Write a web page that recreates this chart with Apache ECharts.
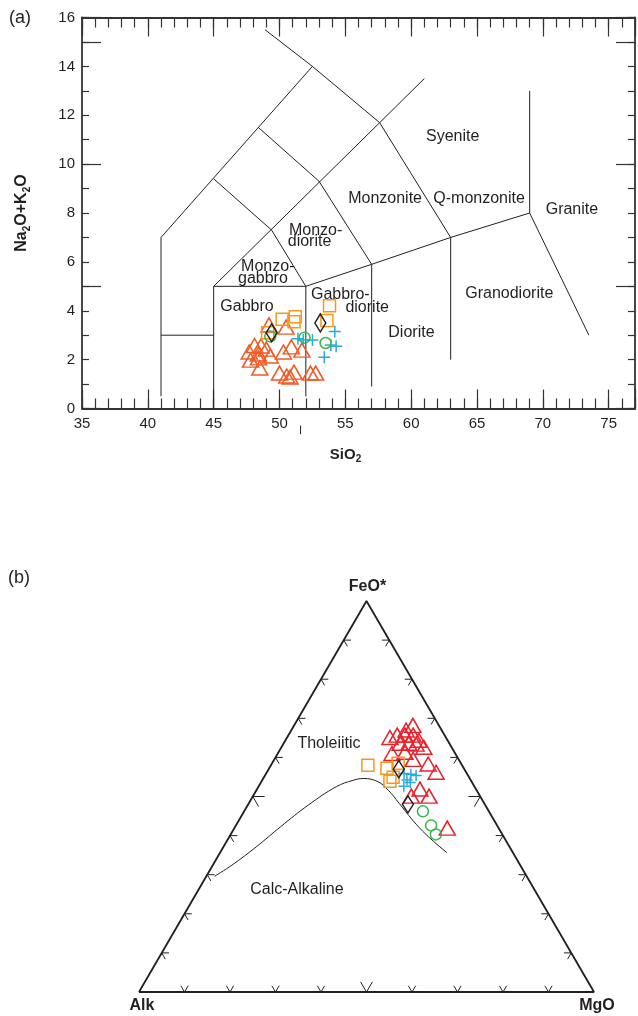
<!DOCTYPE html>
<html><head><meta charset="utf-8">
<script src="https://cdn.jsdelivr.net/npm/echarts@6/dist/echarts.min.js"></script>
<style>html,body{margin:0;padding:0;background:#fff}#c{width:638px;height:1016px}</style>
</head><body><div id="c"></div>
<script>
// ===== (a) TAS diagram data (SiO2 wt%, Na2O+K2O wt%) =====
const triSiO2 = [49.2,50.5,48.1,48.6,47.7,48.4,49.0,49.3,47.8,48.4,48.5,50.3,50.9,51.7,50.0,50.55,51.1,52.35,52.75,50.8];
const triAlk  = [3.42,3.33,2.58,2.56,2.31,2.23,2.43,2.15,1.98,2.07,1.66,2.31,2.52,2.39,1.45,1.33,1.49,1.45,1.45,1.29];
const sqSiO2 = [50.2,51.2,51.1,53.8,53.6,49.1];
const sqAlk  = [3.65,3.75,3.55,4.2,3.6,3.1];
const dmSiO2 = [49.4,53.1];
const dmAlk  = [3.1,3.5];
const ciSiO2 = [49.3,51.9,53.5];
const ciAlk  = [2.95,2.9,2.68];
const crSiO2 = [51.4,51.8,52.5,54.2,53.9,54.3,53.4];
const crAlk  = [2.85,2.8,2.8,3.15,2.6,2.55,2.1];

// TAS field boundaries (polylines, [SiO2, alkali])
const tasLines = [
  [[41,0.5],[41,7],[52.5,14]],
  [[48.9,15.5],[52.5,14],[57.6,11.7],[63,7]],
  [[45,5],[61,13.5]],
  [[48.4,11.5],[53,9.3],[57,5.9],[57,0.9]],
  [[45,9.4],[49.4,7.3],[52,5],[52,0.5]],
  [[45,0],[45,5],[52,5],[57,5.9],[63,7],[69,8],[73.5,3]],
  [[63,7],[63,2]],
  [[69,13],[69,8]],
  [[41,3],[45,3]]
];
const tasStub = [[51.6,-0.7],[51.6,-1.05]];
const tasFieldNames = ['Syenite','Monzonite','Q-monzonite','Granite','Monzo-','diorite','Monzo-','gabbro','Gabbro','Gabbro-','diorite','Diorite','Granodiorite'];
const tasFieldSiO2  = [63.15,58.02,65.16,72.21,52.74,52.28,49.11,48.74,47.53,54.62,56.66,60.02,67.45];
const tasFieldAlk   = [11.11,8.57,8.57,8.12,7.30,6.81,5.79,5.30,4.19,4.68,4.11,3.09,4.72];

// ===== (b) AFM ternary data (FeO* %, MgO %; Alk = 100 - F - M) =====
const afmTriF = [68.2,65.1,65.7,65.7,65.7,64.4,63.6,63.6,63.4,62.6,61.0,61.3,59.5,58.3,56.2,51.9,50.1,50.1,41.9,67.0];
const afmTriM = [26.1,22.6,23.9,25.6,27.4,29.3,25.6,27.5,29.2,31.3,25.1,27.8,30.5,34.4,37.2,35.8,34.8,38.7,46.8,25.2];
const afmSqF = [58.0,57.2,58.5,54.9,53.9];
const afmSqM = [21.3,25.9,27.7,28.4,28.2];
const afmDmF = [57.0,48.0];
const afmDmM = [28.6,35.1];
const afmCiF = [46.2,42.6,40.3];
const afmCiM = [39.3,42.9,45.1];
const afmCrF = [55.9,55.7,55.4,54.2,52.6,53.6];
const afmCrM = [30.3,31.9,33.2,31.8,31.9,32.8];
// Irvine & Baragar tholeiitic / calc-alkaline boundary
const bndF = [29.6,32.45,37.1,42.3,47.8,52.5,54.15,54.6,53.8,51.6,48.3,44.0,40.1,35.6];
const bndM = [1.8,4.2,7.2,10.0,13.3,17.1,20.0,22.1,25.6,29.0,33.0,38.1,43.2,49.9];
const ternTicks = [10,20,30,40,50,60,70,80,90];

// ===== helpers =====
const H = Math.sqrt(3)/2;
const tern = (f,m) => [m/100 + f/200, f/100*H];
const ternPts = (F,M) => F.map((f,i)=>tern(f,M[i]));
const zip = (X,Y) => X.map((x,i)=>[x,Y[i]]);
const ink = '#231f20';
const font = '"Liberation Sans", Arial, Helvetica, sans-serif';
const C = {tri:'#f05a24', triB:'#e8212b', sq:'#f7981d', dm:'#231f20', ci:'#3bb54a', cr:'#27aae1'};

function xAx(pos, interval, len, showLine, showLabel){
  return {type:'value', gridIndex:0, position:pos, min:35, max:77, interval,
    axisLine:{show:showLine, onZero:false, lineStyle:{color:'#333',width:1.8}},
    axisTick:{show:true, inside:true, length:len, lineStyle:{color:'#333',width:1.2}},
    axisLabel: showLabel ? {show:true, margin:8, color:ink, fontSize:15, fontFamily:font,
      formatter:v=> (v%5===0 && v<=75) ? String(v) : ''} : {show:false},
    splitLine:{show:false}};
}
function yAx(pos, interval, len, showLine, showLabel){
  return {type:'value', gridIndex:0, position:pos, min:0, max:16, interval,
    axisLine:{show:showLine, onZero:false, lineStyle:{color:'#333',width:1.8}},
    axisTick:{show:true, inside:true, length:len, lineStyle:{color:'#333',width:1.2}},
    axisLabel: showLabel ? {show:true, margin:7, color:ink, fontSize:15, fontFamily:font,
      formatter:v=> (v%2===0) ? String(v) : ''} : {show:false},
    splitLine:{show:false}};
}
const xAxes = [xAx('bottom',1,10,true,true), xAx('bottom',5,19,false,false), xAx('top',1,10,true,false), xAx('top',5,19,false,false)];
xAxes[0].name = '{b|SiO}{s|2}';
xAxes[0].nameLocation = 'middle';
xAxes[0].nameGap = 36;
xAxes[0].nameTextStyle = {padding:[0,26,0,0], rich:{b:{fontSize:15,fontWeight:'bold',fontFamily:font,color:ink,lineHeight:20},s:{fontSize:10,fontWeight:'bold',fontFamily:font,color:ink,lineHeight:10,verticalAlign:'bottom'}}};
const yAxes = [yAx('left',1,7,true,true), yAx('left',5,19,false,false), yAx('right',1,7,true,false), yAx('right',5,19,false,false)];
yAxes[0].name = '{b|Na}{s|2}{b|O+K}{s|2}{b|O}';
yAxes[0].nameLocation = 'middle';
yAxes[0].nameGap = 50;
yAxes[0].nameTextStyle = {rich:{b:{fontSize:16,fontWeight:'bold',fontFamily:font,color:ink,lineHeight:20},s:{fontSize:10,fontWeight:'bold',fontFamily:font,color:ink,lineHeight:10,verticalAlign:'bottom'}}};
xAxes.push({type:'value', gridIndex:1, min:0, max:1, show:false});
yAxes.push({type:'value', gridIndex:1, min:0, max:H, show:false});

const series = [];
tasLines.forEach(l => series.push({type:'line', xAxisIndex:0, yAxisIndex:0, data:l, symbol:'none', silent:true, lineStyle:{color:ink,width:1}}));
series.push({type:'line', xAxisIndex:0, yAxisIndex:0, data:tasStub, symbol:'none', clip:false, silent:true, lineStyle:{color:ink,width:1}});
series.push({type:'scatter', xAxisIndex:0, yAxisIndex:0, symbolSize:0, silent:true, itemStyle:{opacity:1},
  data: tasFieldNames.map((n,i)=>({name:n, value:[tasFieldSiO2[i], tasFieldAlk[i]]})),
  label:{show:true, position:'inside', formatter:'{b}', color:ink, opacity:1, fontSize:16, fontFamily:font}});

function hollow(type, size, color, data, xi, yi, z){
  return {type:'scatter', xAxisIndex:xi, yAxisIndex:yi, symbol:type, symbolSize:size, data, z:z||3,
    itemStyle:{color:'rgba(0,0,0,0)', borderColor:color, borderWidth:1.5, opacity:1}};
}
const crossPath = 'path://M6,0L6,12M0,6L12,6';
series.push(hollow('triangle',[16,14],C.tri, zip(triSiO2,triAlk),0,0));
series.push(hollow('rect',12,C.sq, zip(sqSiO2,sqAlk),0,0));
series.push(hollow(crossPath,12,C.cr, zip(crSiO2,crAlk),0,0));
series.push(hollow('circle',11,C.ci, zip(ciSiO2,ciAlk),0,0));
series.push(hollow('diamond',[11,18],C.dm, zip(dmSiO2,dmAlk),0,0));

// ternary frame
series.push({type:'line', xAxisIndex:4, yAxisIndex:4, symbol:'none', silent:true,
  data:[tern(0,0), tern(0,100), tern(100,0), tern(0,0)], lineStyle:{color:ink,width:1.8}});
// ternary chevron ticks
const tickLines = [];
const arm = (p, deg, L) => [p[0]+L*Math.cos(deg*Math.PI/180), p[1]+L*Math.sin(deg*Math.PI/180)];
ternTicks.forEach(t => {
  const L = t===50 ? 0.026 : 0.016;
  const pb = tern(0, t);            // bottom side (Alk->MgO)
  const pl = tern(t, 0);            // left side (Alk->FeO*)
  const pr = tern(t, 100-t);        // right side (MgO->FeO*)
  tickLines.push({coords:[arm(pb,60,L), pb, arm(pb,120,L)]});
  tickLines.push({coords:[arm(pl,0,L), pl, arm(pl,-60,L)]});
  tickLines.push({coords:[arm(pr,180,L), pr, arm(pr,240,L)]});
});
series.push({type:'lines', coordinateSystem:'cartesian2d', xAxisIndex:4, yAxisIndex:4, polyline:true, silent:true,
  data:tickLines, lineStyle:{color:ink,width:1,opacity:1}});
series.push({type:'line', xAxisIndex:4, yAxisIndex:4, symbol:'none', smooth:0.4, silent:true,
  data:ternPts(bndF,bndM), lineStyle:{color:ink,width:1}});
series.push(hollow('triangle',[16,14],C.triB, ternPts(afmTriF,afmTriM),4,4));
series.push(hollow('rect',12,C.sq, ternPts(afmSqF,afmSqM),4,4));
series.push(hollow(crossPath,11,C.cr, ternPts(afmCrF,afmCrM),4,4));
series.push(hollow('circle',11,C.ci, ternPts(afmCiF,afmCiM),4,4));
series.push(hollow('diamond',[11,17],C.dm, ternPts(afmDmF,afmDmM),4,4));
// ternary labels
series.push({type:'scatter', xAxisIndex:4, yAxisIndex:4, symbolSize:0, silent:true, itemStyle:{opacity:1},
  data:[
    {name:'FeO*', value:tern(100,0), label:{offset:[1,-14], fontWeight:'bold'}},
    {name:'Alk', value:tern(0,0), label:{offset:[3,14], fontWeight:'bold'}},
    {name:'MgO', value:tern(0,100), label:{offset:[3,14], fontWeight:'bold'}},
    {name:'Tholeiitic', value:[0.4176,0.551]},
    {name:'Calc-Alkaline', value:[0.347,0.2275]}
  ],
  label:{show:true, position:'inside', formatter:'{b}', color:ink, opacity:1, fontSize:16, fontFamily:font}});

const chart = echarts.init(document.getElementById('c'), null, {renderer:'canvas'});
chart.setOption({
  animation:false,
  backgroundColor:'#fff',
  grid:[{left:82, top:17.5, width:555, height:391}, {left:139, top:601, width:455, height:391}],
  xAxis:xAxes, yAxis:yAxes, series,
  graphic:[
    {type:'text', left:9, top:9, style:{text:'(a)', fontSize:18, fontFamily:font, fill:ink}},
    {type:'text', left:8, top:569, style:{text:'(b)', fontSize:18, fontFamily:font, fill:ink}}
  ]
});
</script></body></html>
